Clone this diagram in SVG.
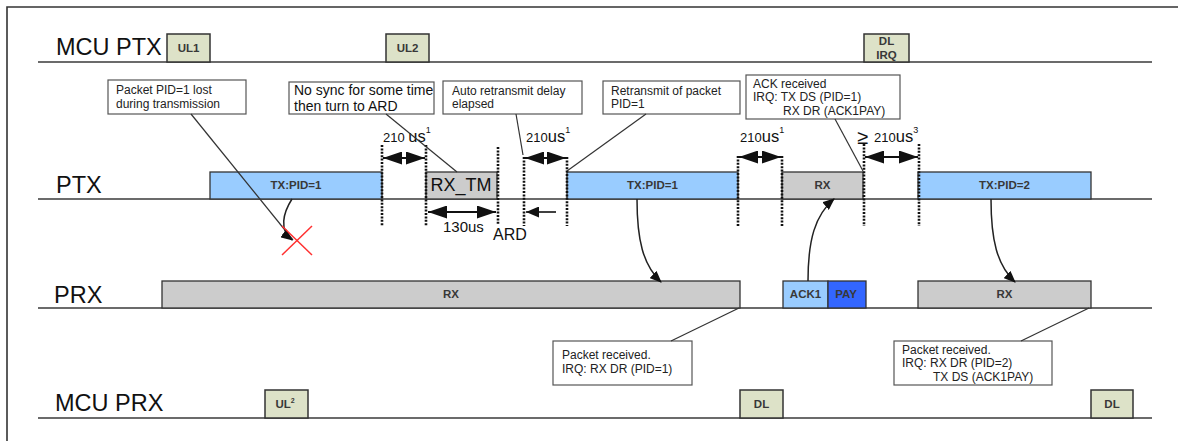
<svg xmlns="http://www.w3.org/2000/svg" width="1178" height="441" viewBox="0 0 1178 441">
<style>
.lane{stroke:#3a3a3a;stroke-width:1.6;fill:none}
.lbl{font-family:"Liberation Sans",Arial,sans-serif;font-size:23.5px;fill:#111}
.mcu{fill:#dde2c8;stroke:#333;stroke-width:1.5}
.tx{fill:#99ccff;stroke:#333;stroke-width:1.3}
.rx{fill:#cccccc;stroke:#333;stroke-width:1.3}
.pay{fill:#3366ff;stroke:#333;stroke-width:1.3}
.call{fill:#fff;stroke:#555;stroke-width:1.2}
.bt{font-family:"Liberation Sans",Arial,sans-serif;font-size:11.5px;font-weight:bold;fill:#383838;text-anchor:middle}
.ct{font-family:"Liberation Sans",Arial,sans-serif;font-size:12px;fill:#222}
.big{font-family:"Liberation Sans",Arial,sans-serif;fill:#111}
.dot{stroke:#111;stroke-width:2.6;stroke-dasharray:2 1.4;fill:none}
.lead{stroke:#333;stroke-width:1.2;fill:none}
.curve{stroke:#222;stroke-width:1.5;fill:none;marker-end:url(#head)}
.dim{stroke:#111;stroke-width:1.8;fill:none;marker-start:url(#bigHead);marker-end:url(#bigHead)}
</style>
<defs>
<marker id="head" markerUnits="userSpaceOnUse" markerWidth="12" markerHeight="10" refX="11" refY="5" orient="auto"><path d="M0,0 L12,5 L0,10 z" fill="#111"/></marker>
<marker id="bigHead" markerUnits="userSpaceOnUse" markerWidth="19" markerHeight="13" refX="19" refY="6.5" orient="auto-start-reverse"><path d="M0,0 L19,6.5 L0,13 z" fill="#111"/></marker>
<marker id="smallHead" markerUnits="userSpaceOnUse" markerWidth="13" markerHeight="11" refX="13" refY="5.5" orient="auto"><path d="M0,0 L13,5.5 L0,11 z" fill="#111"/></marker>
</defs>
<rect width="1178" height="441" fill="#fff"/>
<!-- frame -->
<path d="M7,441 V7 H1178" stroke="#333" stroke-width="1.6" fill="none"/>

<!-- lanes -->
<g id="lanes">
<line class="lane" x1="38" y1="62" x2="1152" y2="62"/>
<line class="lane" x1="38" y1="199" x2="1152" y2="199"/>
<line class="lane" x1="38" y1="308" x2="1152" y2="308"/>
<line class="lane" x1="38" y1="418" x2="1152" y2="418"/>
<text class="lbl" x="56" y="55">MCU PTX</text>
<text class="lbl" x="56" y="193">PTX</text>
<text class="lbl" x="54" y="303">PRX</text>
<text class="lbl" x="55" y="411">MCU PRX</text>
</g>

<!-- MCU PTX nodes -->
<g id="ul1"><rect class="mcu" x="167" y="34" width="43" height="28"/><text class="bt" x="188.5" y="52">UL1</text></g>
<g id="ul2"><rect class="mcu" x="386" y="34" width="43" height="28"/><text class="bt" x="407.5" y="52">UL2</text></g>
<g id="dlirq"><rect class="mcu" x="864" y="34" width="45" height="28"/><text class="bt" x="886.5" y="45">DL</text><text class="bt" x="886.5" y="59">IRQ</text></g>

<!-- PTX nodes -->
<g id="ptx-tx1"><rect class="tx" x="210" y="172" width="172" height="27"/><text class="bt" x="296" y="189">TX:PID=1</text></g>
<g id="ptx-rxtm"><rect class="rx" x="426" y="172" width="71" height="27" stroke="none"/><text class="big" x="461" y="191" font-size="18" fill="#333" text-anchor="middle">RX_TM</text></g>
<g id="ptx-tx2"><rect class="tx" x="567" y="172" width="171" height="27"/><text class="bt" x="652.5" y="189">TX:PID=1</text></g>
<g id="ptx-rx"><rect class="rx" x="782" y="172" width="81" height="27"/><text class="bt" x="822.5" y="189">RX</text></g>
<g id="ptx-tx3"><rect class="tx" x="918" y="172" width="173" height="27"/><text class="bt" x="1004.5" y="189">TX:PID=2</text></g>

<!-- PRX nodes -->
<g id="prx-rx1"><rect class="rx" x="162" y="281" width="578" height="27"/><text class="bt" x="451" y="298">RX</text></g>
<g id="prx-ack"><rect class="tx" x="783" y="281" width="45" height="27"/><text class="bt" x="805.5" y="298">ACK1</text></g>
<g id="prx-pay"><rect class="pay" x="828" y="281" width="38" height="27"/><text class="bt" x="846" y="298" fill="#1a1a40">PAY</text></g>
<g id="prx-rx2"><rect class="rx" x="918" y="281" width="173" height="27"/><text class="bt" x="1004.5" y="298">RX</text></g>

<!-- MCU PRX nodes -->
<g id="ul-2"><rect class="mcu" x="265" y="390" width="43" height="28"/><text class="bt" x="285" y="408" font-size="10">UL<tspan font-size="7" dy="-5">2</tspan></text></g>
<g id="dl1"><rect class="mcu" x="740" y="390" width="43" height="28"/><text class="bt" x="761.5" y="408">DL</text></g>
<g id="dl2"><rect class="mcu" x="1091" y="390" width="42" height="28"/><text class="bt" x="1112" y="408">DL</text></g>

<!-- callouts -->
<g id="call-lost"><rect class="call" x="108" y="80" width="138" height="34"/><text class="ct" x="116" y="94">Packet PID=1 lost</text><text class="ct" x="116" y="108">during transmission</text></g>
<g id="call-nosync"><rect class="call" x="289" y="82" width="145" height="32"/><text class="big" x="294" y="95" font-size="14">No sync for some time</text><text class="big" x="294" y="111" font-size="14">then turn to ARD</text></g>
<g id="call-auto"><rect class="call" x="443" y="81" width="139" height="33"/><text class="ct" x="452" y="95">Auto retransmit delay</text><text class="ct" x="452" y="108">elapsed</text></g>
<g id="call-retx"><rect class="call" x="603" y="81" width="137" height="33"/><text class="ct" x="611" y="95">Retransmit of packet</text><text class="ct" x="611" y="108">PID=1</text></g>
<g id="call-ack"><rect class="call" x="746" y="75" width="154" height="44"/><text class="ct" x="753" y="88">ACK received</text><text class="ct" x="753" y="101">IRQ: TX DS (PID=1)</text><text class="ct" x="783" y="115">RX DR (ACK1PAY)</text></g>
<g id="call-rx1"><rect class="call" x="553" y="341" width="139" height="44"/><text class="ct" x="562" y="359">Packet received.</text><text class="ct" x="562" y="373">IRQ: RX DR (PID=1)</text></g>
<g id="call-rx2"><rect class="call" x="894" y="341" width="158" height="44"/><text class="ct" x="902" y="354">Packet received.</text><text class="ct" x="902" y="367">IRQ: RX DR (PID=2)</text><text class="ct" x="933" y="381">TX DS (ACK1PAY)</text></g>

<!-- timing marks -->
<g id="timing">
<line class="dot" x1="382" y1="145" x2="382" y2="226"/>
<line class="dot" x1="426" y1="145" x2="426" y2="226"/>
<line class="dot" x1="498" y1="147" x2="498" y2="224"/>
<line class="dot" x1="524" y1="157" x2="524" y2="226"/>
<line class="dot" x1="567" y1="157" x2="567" y2="226"/>
<line class="dot" x1="738" y1="156" x2="738" y2="226"/>
<line class="dot" x1="782" y1="156" x2="782" y2="226"/>
<line class="dot" x1="864" y1="144" x2="864" y2="226"/>
<line class="dot" x1="919" y1="144" x2="919" y2="226"/>
<line class="dim" x1="383" y1="158" x2="425" y2="158"/>
<line class="dim" x1="525" y1="158" x2="566" y2="158"/>
<line class="dim" x1="739" y1="157" x2="781" y2="157"/>
<line class="dim" x1="865" y1="157" x2="918" y2="157"/>
<line class="dim" x1="428" y1="212" x2="496" y2="212"/>
<line x1="556" y1="212" x2="526" y2="212" stroke="#111" stroke-width="1.6" marker-end="url(#smallHead)"/>
<text class="big" x="383" y="142" font-size="13">210 <tspan font-size="16.5">us</tspan><tspan font-size="9" dy="-9">1</tspan></text>
<text class="big" x="526" y="142" font-size="13">210<tspan font-size="16.5">us</tspan><tspan font-size="9" dy="-9">1</tspan></text>
<text class="big" x="740" y="142" font-size="13">210<tspan font-size="16.5">us</tspan><tspan font-size="9" dy="-9">1</tspan></text>
<text class="big" x="857" y="144" font-size="20">≥</text>
<text class="big" x="874" y="142" font-size="13">210<tspan font-size="16.5">us</tspan><tspan font-size="9" dy="-9">3</tspan></text>
<text class="big" x="443" y="232" font-size="15">130us</text>
<text class="big" x="493" y="240" font-size="16">ARD</text>
</g>

<!-- connectors -->
<g id="connectors">
<line class="lead" x1="191" y1="114" x2="293" y2="240"/>
<line class="lead" x1="386" y1="114" x2="457" y2="172"/>
<line class="lead" x1="516" y1="114" x2="523" y2="155"/>
<line class="lead" x1="646" y1="114" x2="567" y2="171"/>
<line class="lead" x1="835" y1="119" x2="863" y2="171"/>
<line class="lead" x1="671" y1="341" x2="739" y2="308"/>
<line class="lead" x1="1021" y1="341" x2="1089" y2="308"/>
<path class="curve" d="M292,199 C283,213 279,230 292,240"/>
<path class="curve" d="M637,199 C637,240 643,265 661,282"/>
<path class="curve" d="M808,281 C808,240 815,215 834,199"/>
<path class="curve" d="M991,199 C991,240 997,265 1015,282"/>
<g stroke="#ff3030" stroke-width="1.5"><line x1="282" y1="226" x2="312" y2="255"/><line x1="312" y1="226" x2="282" y2="255"/></g>
</g>
</svg>
